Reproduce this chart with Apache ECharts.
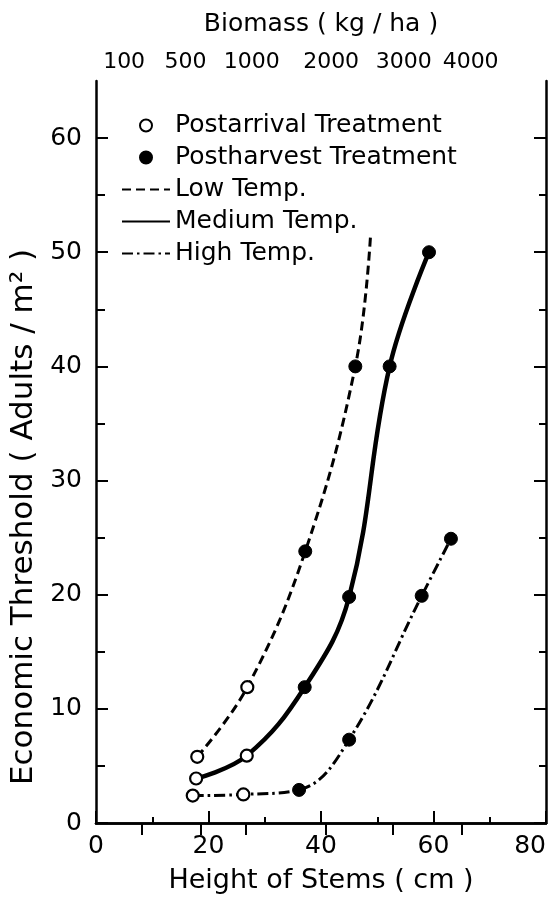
<!DOCTYPE html>
<html>
<head>
<meta charset="utf-8">
<script src="https://cdn.jsdelivr.net/npm/echarts@6/dist/echarts.min.js"></script>
<style>
html,body{margin:0;padding:0;background:#fff;}
#chart{width:551px;height:899px;}
</style>
</head>
<body>
<div id="chart"></div>
<script>
// ---- data ----
const lowTemp = [[18.0, 5.8], [26.9, 11.9], [37.2, 23.8], [46.1, 40.0]];
const lowTempCurveEnd = [48.8, 51.4]; // dashed curve continues, no marker
const mediumTemp = [[17.8, 3.9], [26.8, 5.9], [37.1, 11.9], [45.0, 19.8], [52.2, 40.0], [59.2, 50.0]];
const highTemp = [[17.2, 2.4], [26.2, 2.5], [36.1, 2.9], [45.0, 7.3], [57.9, 19.9], [63.1, 24.9]];
const postarrivalCount = 2; // first points of each curve: postarrival (open)

const xTicks = [0, 20, 40, 60, 80];
const yMajorTicks = [0, 10, 20, 30, 40, 50, 60];
const yMinorTicks = [5, 15, 25, 35, 45, 55];
const biomassLabels = ['100', '500', '1000', '2000', '3000', '4000'];
const biomassTickAt = [8.1, 18.6, 26.7, 40.9, 52.8, 65.1];   // stem height of each biomass tick
const biomassLabelAt = [5.0, 15.9, 27.7, 41.8, 54.7, 66.6];  // where each label is printed

const legendNames = ['Postarrival Treatment', 'Postharvest Treatment', 'Low Temp.', 'Medium Temp.', 'High Temp.'];

// ---- build ----
const FONT = 'DejaVu Sans';
const BLACK = '#000';
const curves = [lowTemp, mediumTemp, highTemp];
const openPts = [].concat(...curves.map(c => c.slice(0, postarrivalCount)));
const filledPts = [].concat(...curves.map(c => c.slice(postarrivalCount)));

const tickBase = {show: true, inside: true, lineStyle: {color: BLACK, width: 2}};
const lineBase = {show: true, lineStyle: {color: BLACK, width: 2.5}};
const hiddenSym = {color: 'rgba(0,0,0,0)', borderColor: 'rgba(0,0,0,0)', borderWidth: 0};

const chart = echarts.init(document.getElementById('chart'), null, {renderer: 'canvas'});
chart.setOption({
  backgroundColor: '#fff',
  animation: false,
  textStyle: {fontFamily: FONT, color: BLACK},
  grid: {left: 96, right: 5, top: 81, bottom: 74, containLabel: false},
  legend: {
    orient: 'vertical', left: 116, top: 108, itemGap: 7,
    itemWidth: 48, itemHeight: 12,
    textStyle: {fontFamily: FONT, fontSize: 25, color: BLACK},
    data: [
      {name: legendNames[0]},
      {name: legendNames[1]},
      {name: legendNames[2], itemStyle: hiddenSym},
      {name: legendNames[3], itemStyle: hiddenSym},
      {name: legendNames[4], itemStyle: hiddenSym}
    ]
  },
  xAxis: [{
    type: 'value', position: 'bottom', min: xTicks[0], max: xTicks[xTicks.length - 1], interval: xTicks[1] - xTicks[0],
    axisLine: lineBase,
    axisTick: Object.assign({}, tickBase, {length: 12}),
    minorTick: {show: true, splitNumber: 2, length: 6, lineStyle: {color: BLACK, width: 2}},
    splitLine: {show: false},
    axisLabel: {fontFamily: FONT, fontSize: 25, color: BLACK, margin: 11, alignMaxLabel: 'right'},
    name: 'Height of Stems ( cm )', nameLocation: 'middle', nameGap: 44,
    nameTextStyle: {fontFamily: FONT, fontSize: 27, color: BLACK}
  }, {
    type: 'value', position: 'top', min: xTicks[0], max: xTicks[xTicks.length - 1],
    axisLine: lineBase,
    axisTick: Object.assign({}, tickBase, {length: 12, customValues: biomassTickAt}),
    splitLine: {show: false},
    axisLabel: {
      fontFamily: FONT, fontSize: 22, color: BLACK, margin: 8,
      customValues: biomassLabelAt,
      formatter: v => biomassLabels[biomassLabelAt.indexOf(v)] || ''
    },
    name: 'Biomass ( kg / ha )', nameLocation: 'middle', nameGap: 44,
    nameTextStyle: {fontFamily: FONT, fontSize: 25, color: BLACK}
  }],
  yAxis: [{
    type: 'value', position: 'left', min: 0, max: 65,
    axisLine: lineBase,
    axisTick: Object.assign({}, tickBase, {length: 12, customValues: yMajorTicks}),
    splitLine: {show: false},
    axisLabel: {fontFamily: FONT, fontSize: 25, color: BLACK, margin: 14, customValues: yMajorTicks},
    name: 'Economic Threshold ( Adults / m² )', nameLocation: 'middle', nameGap: 48,
    nameTextStyle: {fontFamily: FONT, fontSize: 31, color: BLACK, padding: [0, 130, 0, 0]}
  }, {
    type: 'value', position: 'left', min: 0, max: 65,
    axisLine: {show: false},
    axisTick: Object.assign({}, tickBase, {length: 9, customValues: yMinorTicks}),
    splitLine: {show: false}, axisLabel: {show: false}
  }, {
    type: 'value', position: 'right', min: 0, max: 65,
    axisLine: lineBase,
    axisTick: Object.assign({}, tickBase, {length: 12, customValues: yMajorTicks}),
    splitLine: {show: false}, axisLabel: {show: false}
  }, {
    type: 'value', position: 'right', min: 0, max: 65,
    axisLine: {show: false},
    axisTick: Object.assign({}, tickBase, {length: 7, customValues: yMinorTicks}),
    splitLine: {show: false}, axisLabel: {show: false}
  }],
  series: [{
    name: 'Low Temp.', type: 'line', smooth: 0.4, symbol: 'none',
    data: lowTemp.concat([lowTempCurveEnd]),
    lineStyle: {color: BLACK, width: 3, type: [9, 5]}, itemStyle: {color: BLACK}, z: 2
  }, {
    name: 'Medium Temp.', type: 'line', smooth: 0.4, symbol: 'none',
    data: mediumTemp,
    lineStyle: {color: BLACK, width: 4.5, type: 'solid'}, itemStyle: {color: BLACK}, z: 2
  }, {
    name: 'High Temp.', type: 'line', smooth: 0.4, symbol: 'none',
    data: highTemp,
    lineStyle: {color: BLACK, width: 3, type: [11, 4, 2.5, 4]}, itemStyle: {color: BLACK}, z: 2
  }, {
    name: 'Postarrival Treatment', type: 'scatter', symbol: 'circle', symbolSize: 12,
    data: openPts,
    itemStyle: {color: '#fff', borderColor: BLACK, borderWidth: 2.2, opacity: 1}, z: 5
  }, {
    name: 'Postharvest Treatment', type: 'scatter', symbol: 'circle', symbolSize: 13,
    data: filledPts,
    itemStyle: {color: BLACK, borderColor: BLACK, borderWidth: 1, opacity: 1}, z: 5
  }]
});
</script>
</body>
</html>
